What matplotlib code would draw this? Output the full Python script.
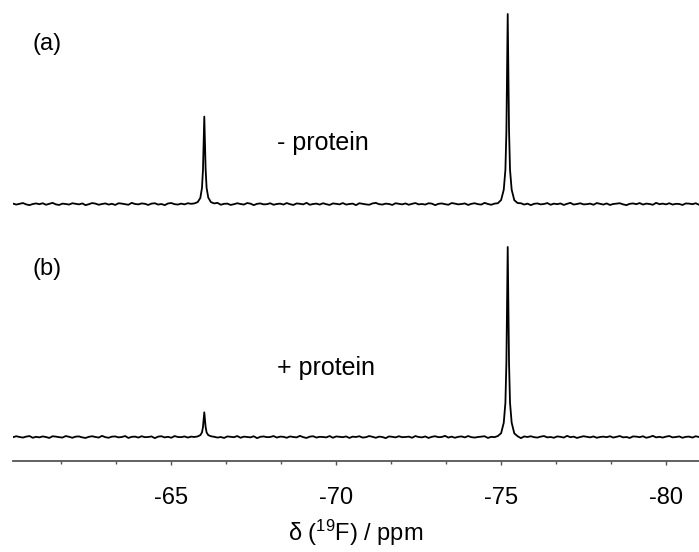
import numpy as np
import matplotlib
matplotlib.use("Agg")
import matplotlib.pyplot as plt
from matplotlib.ticker import MultipleLocator

plt.rcParams['font.family'] = ['Liberation Sans', 'DejaVu Sans']
plt.rcParams['mathtext.fontset'] = 'custom'
plt.rcParams['mathtext.rm'] = 'Liberation Sans'
plt.rcParams['mathtext.it'] = 'Liberation Sans:italic'
plt.rcParams['axes.unicode_minus'] = False

# spectral window (ppm), left -> right
ppm_left = -60.2
ppm_right = -81.0

# baseline noise (one value every 0.1 ppm)
base_a = [0.2, -0.3, 0.1, 0.5, -0.2, -0.6, 0.0, 0.3, -0.1, 0.4, -0.4, 0.1, 0.6, -0.2, -0.5, 0.2, 0.0, -0.3, 0.4, 0.1,
          -0.2, 0.3, -0.6, -0.1, 0.5, 0.2, -0.4, 0.0, 0.3, -0.3, 0.1, -0.5, 0.4, 0.2, -0.1, -0.4, 0.6, 0.0, -0.2, 0.3,
          0.1, -0.5, 0.2, 0.4, -0.3, 0.0, -0.6, 0.3, 0.5, -0.1, -0.3, 0.2, -0.2, 0.4, 0.1, -0.4, 0.0, 0.5, -0.3, -0.1,
          0.3, -0.2, 0.6, -0.4, 0.1, 0.2, -0.5, -0.1, 0.4, 0.0, -0.3, 0.5, 0.2, -0.6, 0.1, 0.3, -0.2, -0.1, 0.4, -0.4,
          0.0, 0.2, -0.3, 0.5, -0.1, -0.5, 0.3, 0.1, -0.2, 0.6, -0.4, 0.0, 0.2, -0.3, 0.4, -0.1, -0.5, 0.3, 0.1, -0.2,
          0.5, -0.3, 0.0, 0.2, -0.6, 0.4, 0.1, -0.2, -0.4, 0.3, 0.6, -0.1, -0.3, 0.2, 0.0, -0.5, 0.4, 0.1, -0.2, 0.3,
          -0.4, 0.1, 0.5, -0.2, 0.0, -0.3, 0.4, 0.2, -0.6, 0.1, 0.3, -0.1, -0.4, 0.5, 0.2, -0.2, 0.0, 0.3, -0.5, 0.1,
          0.4, -0.1, -0.3, 0.6, 0.0, -0.4, 0.2, 0.1, -0.2, 0.5, -0.5, 0.3, 0.0, -0.1, 0.4, -0.3, 0.2, -0.6, 0.1, 0.3,
          -0.2, 0.0, 0.5, -0.4, 0.2, -0.1, 0.3, -0.5, 0.1, 0.6, -0.3, 0.0, 0.4, -0.2, -0.1, 0.2, -0.4, 0.5, 0.1, -0.3,
          0.3, -0.5, 0.0, 0.2, 0.4, -0.2, -0.6, 0.1, 0.3, -0.1, 0.5, -0.3, 0.2, 0.0, -0.4, 0.6, -0.1, 0.2, -0.2, 0.4,
          -0.3, 0.1, 0.0, -0.5, 0.3, 0.2, -0.1, 0.4, -0.4]
base_b = [-0.1, 0.4, 0.0, -0.3, 0.2, 0.5, -0.4, 0.1, -0.2, 0.3, 0.0, -0.5, 0.4, 0.2, -0.1, -0.3, 0.5, 0.1, -0.4, 0.2,
          0.3, -0.2, -0.5, 0.1, 0.4, 0.0, -0.3, 0.6, -0.1, -0.4, 0.2, 0.3, -0.2, 0.0, 0.5, -0.5, 0.1, 0.2, -0.3, 0.4,
          -0.1, 0.0, 0.3, -0.6, 0.2, 0.4, -0.2, 0.1, -0.4, 0.5, 0.0, -0.1, 0.3, -0.3, 0.2, 0.6, -0.5, 0.0, 0.1, -0.2,
          0.4, 0.2, -0.3, 0.0, -0.5, 0.3, 0.1, -0.1, 0.5, -0.4, 0.2, 0.0, -0.2, 0.4, -0.6, 0.1, 0.3, -0.1, 0.0, 0.5,
          -0.3, 0.2, 0.1, -0.4, 0.3, 0.0, -0.2, 0.6, -0.1, -0.5, 0.2, 0.4, -0.3, 0.1, 0.0, -0.2, 0.5, -0.4, 0.3, 0.1,
          -0.1, 0.3, -0.5, 0.2, 0.0, 0.4, -0.3, -0.1, 0.5, 0.1, -0.4, 0.2, 0.0, -0.6, 0.3, 0.1, -0.2, 0.4, -0.1, 0.0,
          0.2, -0.4, 0.5, 0.0, -0.2, 0.3, -0.5, 0.1, 0.4, -0.1, 0.0, 0.6, -0.3, 0.2, -0.4, 0.1, 0.3, -0.2, 0.5, -0.1,
          -0.3, 0.0, 0.2, 0.4, -0.5, 0.1, -0.1, 0.3, 0.0, -0.4, 0.5, 0.2, -0.2, 0.1, -0.6, 0.3, 0.0, 0.4, -0.1, -0.3,
          0.2, 0.5, -0.2, 0.0, -0.4, 0.3, 0.1, -0.3, 0.6, -0.1, 0.2, -0.5, 0.0, 0.4, 0.1, -0.2, 0.3, -0.4, 0.0, 0.2,
          -0.1, 0.4, -0.3, 0.1, 0.5, -0.2, 0.0, -0.5, 0.3, 0.2, -0.1, 0.4, -0.4, 0.0, 0.6, -0.2, 0.1, -0.3, 0.2, 0.5,
          -0.2, 0.0, 0.3, -0.4, 0.1, 0.2, -0.3, 0.4, 0.0]

# peak positions (ppm) and sampled line shapes (offset from centre, intensity)
peak_pos = [-66.0, -75.2]
peak_off = [-0.3, -0.2, -0.12, -0.07, -0.04, -0.02, 0.0, 0.02, 0.04, 0.07, 0.12, 0.2, 0.3]
a_small = [0.3, 1.0, 3.4, 8.5, 18.5, 33.0, 46.0, 32.5, 18.0, 8.5, 3.2, 1.0, 0.3]
a_big = [0.5, 2.0, 7.5, 18.0, 39.0, 70.0, 100.0, 69.0, 38.0, 18.0, 7.5, 2.1, 0.4]
b_small = [0.1, 0.4, 1.0, 2.4, 5.3, 9.4, 13.0, 9.3, 5.2, 2.4, 1.0, 0.3, 0.0]
b_big = [0.4, 1.9, 7.5, 18.0, 39.0, 70.0, 100.0, 70.0, 39.0, 18.0, 7.5, 2.0, 0.5]


def build(base, peaks):
    x = np.linspace(ppm_left, ppm_right, len(base))
    y = np.array(base)
    keep = np.ones(len(x), bool)
    for c in peak_pos:
        keep &= np.abs(x - c) > 0.3
    xs = list(x[keep])
    ys = list(y[keep])
    for c, prof in zip(peak_pos, peaks):
        xs += [c + o for o in peak_off]
        ys += prof
    order = np.argsort(xs)[::-1]
    return np.array(xs)[order], np.array(ys)[order]


xa, ya = build(base_a, [a_small, a_big])
xb, yb = build(base_b, [b_small, b_big])

W, H = 699, 552
fig = plt.figure(figsize=(W / 100, H / 100), dpi=100)


def px_axes(x0, ytop, x1, ybot):
    return fig.add_axes([x0 / W, 1 - ybot / H, (x1 - x0) / W, (ybot - ytop) / H])


sc = 1.9  # pixels per intensity unit
ax_a = px_axes(13, 0, 699, 220)
ax_b = px_axes(13, 240, 699, 461)

ax_a.plot(xa, ya, color='black', lw=1.3)
ax_a.set_ylim(-16 / sc, 204 / sc)
ax_b.plot(xb, yb, color='black', lw=1.3)
ax_b.set_ylim(-24 / sc, 197 / sc)

for ax in (ax_a, ax_b):
    ax.set_xlim(ppm_left, ppm_right)
    for s in ('top', 'left', 'right'):
        ax.spines[s].set_visible(False)
    ax.set_yticks([])
    ax.patch.set_alpha(0)

ax_a.spines['bottom'].set_visible(False)
ax_a.set_xticks([])

ax_b.spines['bottom'].set_color('#555555')
ax_b.spines['bottom'].set_linewidth(1.3)
ax_b.xaxis.set_major_locator(MultipleLocator(5))
ax_b.xaxis.set_minor_locator(MultipleLocator(5 / 3))
ax_b.tick_params(axis='x', which='major', length=3, width=1, color='#555555',
                 labelsize=17, pad=16)
ax_b.tick_params(axis='x', which='minor', length=2, width=1, color='#555555')
ax_b.set_xlabel(r'δ ($^{\mathrm{19}}$F) / ppm', fontsize=17, labelpad=6)

fig.text(32 / W, 1 - 44 / H, '(a)', fontsize=17, va='center', ha='left')
fig.text(32 / W, 1 - 269 / H, '(b)', fontsize=17, va='center', ha='left')
fig.text(277 / W, 1 - 143 / H, '- protein', fontsize=18, va='center', ha='left')
fig.text(277 / W, 1 - 368 / H, '+ protein', fontsize=18, va='center', ha='left')

fig.savefig('out.png', dpi=100)
